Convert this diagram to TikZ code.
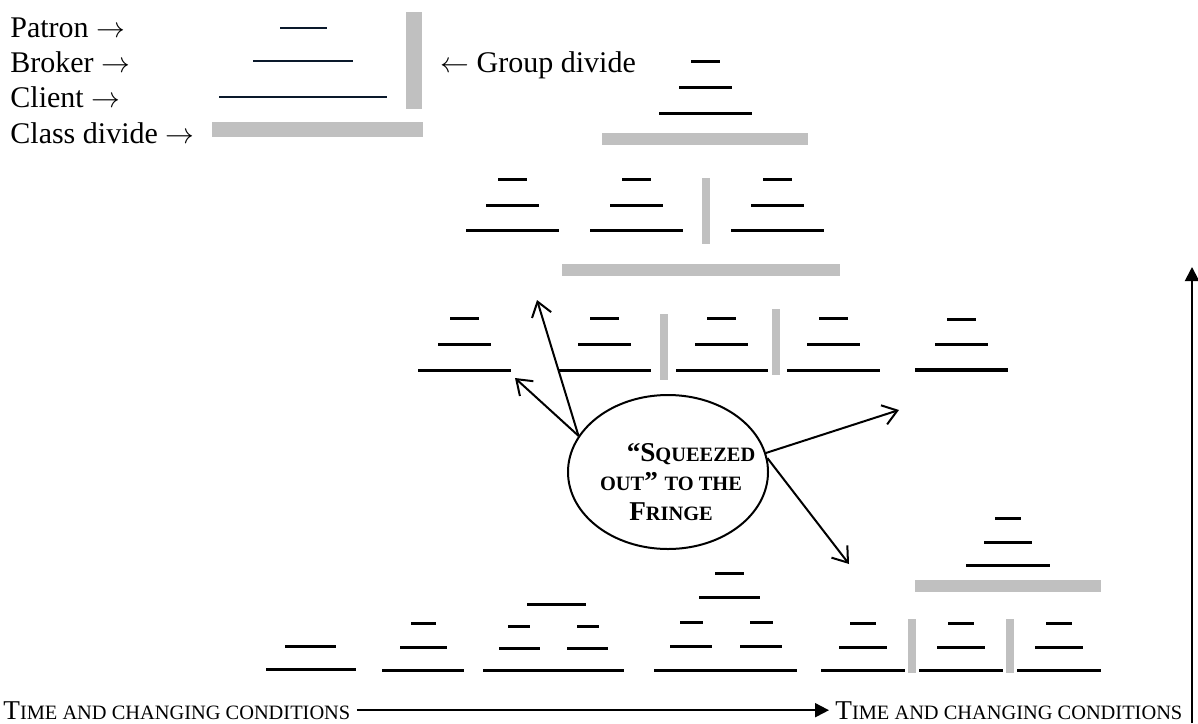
\documentclass[tikz,border=0pt]{standalone}
\usepackage{fontspec}
\setmainfont{Liberation Serif}
\usetikzlibrary{arrows.meta,shapes.geometric}
\newcommand*{\fakesc}[2]{#1{\fontsize{10.2}{11}\selectfont\MakeUppercase{#2}}}
\begin{document}
\begin{tikzpicture}[x=0.5pt,y=-0.5pt,
  tierline/.style={line width=1.5pt,black},
  legline/.style={line width=1.2pt,col_legend},
  barrow/.style={line width=1pt,-{Straight Barb[length=7pt,width=10pt,line width=1pt]}},
  timearrow/.style={line width=1pt,-{Triangle[length=7pt,width=7pt]}},
  legtext/.style={anchor=base west,inner sep=0pt,font=\fontsize{15}{18}\selectfont},
  timetext/.style={anchor=base west,inner sep=3pt,font=\fontsize{13.6}{15}\selectfont}]
%
\definecolor{col_legend}{rgb}{0.04,0.10,0.17}
\definecolor{col_divide}{RGB}{192,192,192}
%
\useasboundingbox (0,0) rectangle (1198,723);
%
% legend
\node[legtext] (patron) at (10,37) {Patron $\rightarrow$};
\node[legtext] (broker) at (10,72) {Broker $\rightarrow$};
\node[legtext] (client) at (10,107) {Client $\rightarrow$};
\node[legtext] (classdiv) at (10,143) {Class divide $\rightarrow$};
\node[legtext] (groupdiv) at (440,72) {$\leftarrow$ Group divide};
\draw[legline] (280,28) -- (327,28);
\draw[legline] (253,61) -- (353,61);
\draw[legline] (219,97) -- (387,97);
\fill[col_divide] (406,12) rectangle (422,109);
\fill[col_divide] (212,122) rectangle (423,137);
%
% top pyramid
\draw[tierline] (691,61) -- (720,61);
\draw[tierline] (679,87) -- (732,87);
\draw[tierline] (659,113) -- (752,113);
\fill[col_divide] (602,133) rectangle (808,145);
%
% second row
\draw[tierline] (498,179) -- (527,179);
\draw[tierline] (486,205) -- (539,205);
\draw[tierline] (466,230) -- (559,230);
\draw[tierline] (622,179) -- (651,179);
\draw[tierline] (610,205) -- (663,205);
\draw[tierline] (590,230) -- (683,230);
\fill[col_divide] (702,178) rectangle (710,244);
\draw[tierline] (763,179) -- (792,179);
\draw[tierline] (751,205) -- (804,205);
\draw[tierline] (731,230) -- (824,230);
\fill[col_divide] (562,264) rectangle (840,276);
%
% third row
\draw[tierline] (450,318) -- (479,318);
\draw[tierline] (438,344) -- (491,344);
\draw[tierline] (418,370) -- (511,370);
\draw[tierline] (590,318) -- (619,318);
\draw[tierline] (578,344) -- (631,344);
\draw[tierline] (558,370) -- (651,370);
\fill[col_divide] (660,314) rectangle (668,380);
\draw[tierline] (707,318) -- (736,318);
\draw[tierline] (695,344) -- (748,344);
\draw[tierline] (676,370) -- (768,370);
\fill[col_divide] (772,309) rectangle (780,375);
\draw[tierline] (819,318) -- (848,318);
\draw[tierline] (807,344) -- (860,344);
\draw[tierline] (787,370) -- (880,370);
\draw[tierline] (947,319) -- (976,319);
\draw[tierline] (935,344) -- (988,344);
\draw[tierline,line width=2pt] (915,370) -- (1008,370);
%
% bottom row
\draw[tierline] (285,646) -- (336,646);
\draw[tierline] (266,669) -- (356,669);
%
\draw[tierline] (411,623) -- (436,623);
\draw[tierline] (400,647) -- (447,647);
\draw[tierline] (382,670) -- (464,670);
%
\draw[tierline] (527,604) -- (586,604);
\draw[tierline] (508,626) -- (530,626);
\draw[tierline] (499,648) -- (540,648);
\draw[tierline] (577,626) -- (599,626);
\draw[tierline] (567,648) -- (608,648);
\draw[tierline] (483,670) -- (624,670);
%
\draw[tierline] (715,573) -- (744,573);
\draw[tierline] (699,597) -- (760,597);
\draw[tierline] (680,622) -- (703,622);
\draw[tierline] (670,646) -- (712,646);
\draw[tierline] (750,622) -- (773,622);
\draw[tierline] (740,646) -- (782,646);
\draw[tierline] (654,670) -- (797,670);
%
\draw[tierline] (995,518) -- (1021,518);
\draw[tierline] (984,542) -- (1032,542);
\draw[tierline] (966,565) -- (1050,565);
\fill[col_divide] (915,580) rectangle (1101,592);
\draw[tierline] (850,623) -- (876,623);
\draw[tierline] (839,647) -- (887,647);
\draw[tierline] (821,670) -- (905,670);
\fill[col_divide] (908,619) rectangle (916,673);
\draw[tierline] (948,623) -- (974,623);
\draw[tierline] (937,647) -- (985,647);
\draw[tierline] (919,670) -- (1003,670);
\fill[col_divide] (1006,619) rectangle (1014,673);
\draw[tierline] (1046,623) -- (1072,623);
\draw[tierline] (1035,647) -- (1083,647);
\draw[tierline] (1017,670) -- (1101,670);
%
% squeezed out
\node[draw,ellipse,line width=1pt,minimum width=100pt,minimum height=77pt,inner sep=0pt] (fringe) at (668,472) {};
\node[align=center,inner sep=0pt,font=\bfseries\fontsize{13.6}{14.75}\selectfont] (fringetext) at (671,482)
  {\hspace*{20pt}“\fakesc{S}{queezed}\\\fakesc{}{out}” \fakesc{}{to the}\\\fakesc{F}{ringe}};
\coordinate (h1) at (537,300);
\coordinate (h2) at (515,378);
\coordinate (h3) at (899,410);
\coordinate (h4) at (849,564);
\draw[barrow] (fringe.158) -- (h1);
\draw[barrow] (fringe.158) -- (h2);
\draw[barrow] (fringe.11) -- (h3);
\draw[barrow] (fringe.8) -- (h4);
%
% time axis
\node[timetext] (timeL) at (-3,719) {\fakesc{T}{ime and changing conditions}};
\node[timetext] (timeR) at (829,719) {\fakesc{T}{ime and changing conditions}};
\draw[timearrow] (timeL.east) -- (timeR.west);
\coordinate (vb) at (1192,723);
\coordinate (vt) at (1192,267);
\draw[timearrow] (vb) -- (vt);
%
\end{tikzpicture}
\end{document}
